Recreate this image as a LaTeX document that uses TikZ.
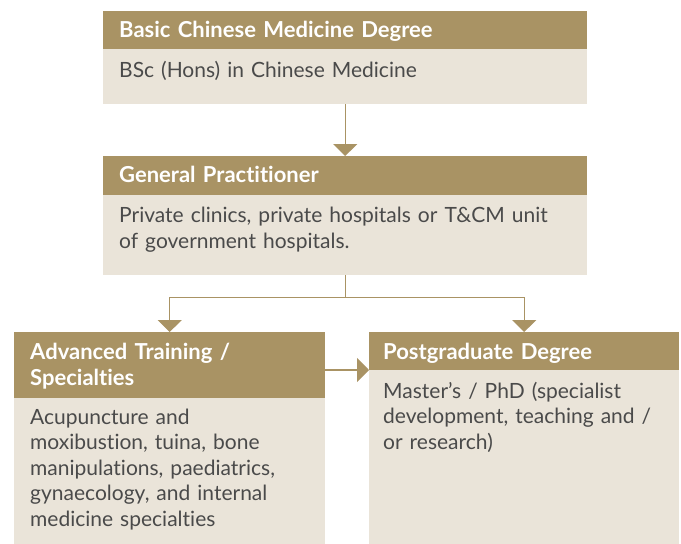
\documentclass[tikz,border=0pt]{standalone}
\usepackage{fontspec}
\setmainfont{Lato}[Ligatures={NoCommon}]
\usetikzlibrary{arrows.meta}
\definecolor{hdr}{HTML}{A99364}
\definecolor{bodyc}{HTML}{EAE4D9}
\definecolor{txt}{HTML}{4A4A4A}
\tikzset{
  hdrbox/.style={fill=hdr,draw=none,anchor=north west,inner sep=0pt},
  bodybox/.style={fill=bodyc,draw=none,anchor=north west,inner sep=0pt},
  hdrtext/.style={anchor=base west,inner sep=0pt,text=white,align=left,text width=440pt,font=\fontsize{22}{26}\selectfont\bfseries},
  bodytext/.style={anchor=base west,inner sep=0pt,text=txt,align=left,text width=480pt,font=\fontsize{21}{25.5}\selectfont},
  arr/.style={draw=hdr,line width=1.2pt,-{Triangle[width=24pt,length=12pt]}},
  conn/.style={draw=hdr,line width=1.2pt}
}
\begin{document}
\begin{tikzpicture}[x=1pt,y=-1pt]
\useasboundingbox (0,0) rectangle (681,544);
% box 1
\node[hdrbox,minimum width=484pt,minimum height=38pt] (h1) at (103,11) {};
\node[bodybox,minimum width=484pt,minimum height=55pt] (b1) at (103,49) {};
% box 2
\node[hdrbox,minimum width=484pt,minimum height=39pt] (h2) at (103,156) {};
\node[bodybox,minimum width=484pt,minimum height=80pt] (b2) at (103,195) {};
% left box
\node[hdrbox,minimum width=311pt,minimum height=66pt] (hL) at (14,332) {};
\node[bodybox,minimum width=311pt,minimum height=146pt] (bL) at (14,398) {};
% right box
\node[hdrbox,minimum width=310pt,minimum height=38pt] (hR) at (369,332) {};
\node[bodybox,minimum width=310pt,minimum height=174pt] (bR) at (369,370) {};
% texts
\node[hdrtext] (t1) at (119,37) {Basic Chinese Medicine Degree};
\node[bodytext] (s1) at (119,77) {BSc (Hons) in Chinese Medicine};
\node[hdrtext] (t2) at (119,182.5) {General Practitioner};
\node[bodytext] (s2) at (119,222.5) {Private clinics, private hospitals or T\&CM unit\\of government hospitals.};
\node[hdrtext] (tL) at (30,359) {Advanced Training /\\Specialties};
\node[bodytext] (sL) at (30,424) {Acupuncture and\\moxibustion, tuina, bone\\manipulations, paediatrics,\\gynaecology, and internal\\medicine specialties};
\node[hdrtext] (tR) at (383,359) {Postgraduate Degree};
\node[bodytext] (sR) at (383,398) {Master’s / PhD (specialist\\development, teaching and /\\or research)};
% connectors
\draw[arr] (b1.south) -- (h2.north);
\coordinate (split) at ([yshift=-22pt]b2.south);
\draw[conn] (b2.south) -- (split);
\draw[arr] (split) -| (hL.north);
\draw[arr] (split) -| (hR.north);
\draw[arr] (bR.north west -| hL.east) -- (bR.north west);
\end{tikzpicture}
\end{document}
